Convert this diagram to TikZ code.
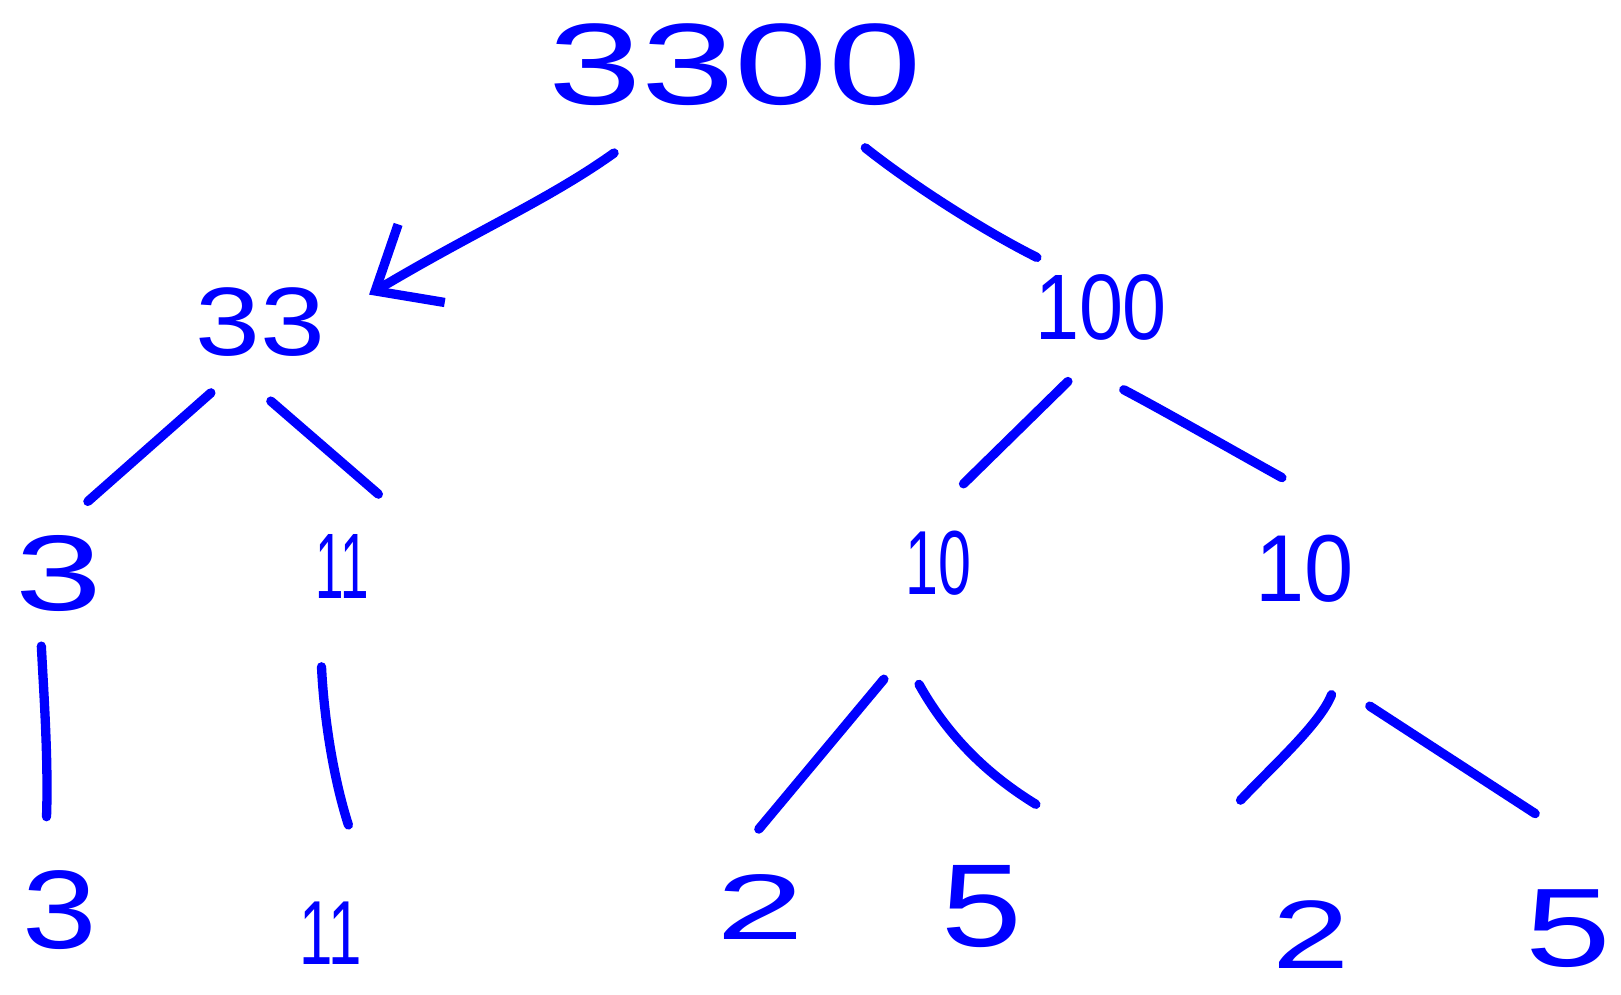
\documentclass[tikz,border=0pt]{standalone}
\usepackage{fontspec}
\setmainfont{Liberation Sans}
\usetikzlibrary{arrows.meta,calc}
\definecolor{ink}{RGB}{0,0,255}
\tikzset{
  num/.style={inner sep=0pt, text=ink},
  edge/.style={draw=ink, line width=4.5pt, line cap=round, line join=round},
  tip/.style={-{Straight Barb[length=26pt,width=44pt,line width=4.5pt]}}
}
\newcommand\fs[1]{\fontsize{#1}{#1}\selectfont}
\newcommand\digits[2]{\scalebox{#1}[1]{#2}}
\begin{document}
\begin{tikzpicture}[x=0.5pt,y=-0.5pt]
\useasboundingbox (0,0) rectangle (1568,962);
% numbers of the factor tree
\node[num,font=\fs{56}] (n3300) at (711,63)  {\digits{1.45}{3300}};
\node[num,font=\fs{47}] (n33)   at (252,312) {\digits{1.2}{33}};
\node[num,font=\fs{45}] (n100)  at (1065,297){\digits{0.85}{100}};
\node[num,font=\fs{52}] (n3a)   at (57,555)  {\digits{1.45}{3}};
\node[num,font=\fs{45}] (n11a)  at (331,548) {\digits{0.55}{11}};
\node[num,font=\fs{44}] (n10a)  at (908,545) {\digits{0.65}{10}};
\node[num,font=\fs{46}] (n10b)  at (1262,550){\digits{0.93}{10}};
\node[num,font=\fs{54}] (n3b)   at (58,880)  {\digits{1.2}{3}};
\node[num,font=\fs{44}] (n11b)  at (320,903) {\digits{0.66}{11}};
\node[num,font=\fs{45}] (n2a)   at (736,877) {\digits{1.7}{2}};
\node[num,font=\fs{57}] (n5a)   at (950,877) {\digits{1.23}{5}};
\node[num,font=\fs{47}] (n2b)   at (1268,904){\digits{1.43}{2}};
\node[num,font=\fs{54}] (n5b)   at (1517,898){\digits{1.38}{5}};
% branches
\draw[edge,tip] ($(n3300)+(-117,85)$) .. controls ($(n3300)+(-180,130)$) and ($(n3300)+(-250,160)$) .. ($(n33)+(105,-27)$);
\draw[edge] ($(n3300)+(126,80)$) .. controls ($(n3300)+(170,115)$) and ($(n3300)+(240,160)$) .. ($(n100)+(-62,-48)$);
\draw[edge] ($(n33)+(-48,68)$) -- ($(n3a)+(28,-70)$);
\draw[edge] ($(n33)+(10,76)$) -- ($(n11a)+(35,-70)$);
\draw[edge] ($(n100)+(-32,72)$) -- ($(n10a)+(24,-77)$);
\draw[edge] ($(n100)+(22,80)$) .. controls ($(n100)+(60,100)$) and ($(n100)+(130,140)$) .. ($(n10b)+(-22,-88)$);
\draw[edge] ($(n3a)+(-17,70)$) .. controls ($(n3a)+(-15,110)$) and ($(n3a)+(-10,180)$) .. ($(n3b)+(-13,-90)$);
\draw[edge] ($(n11a)+(-20,97)$) .. controls ($(n11a)+(-18,140)$) and ($(n11a)+(-10,200)$) .. ($(n11b)+(17,-105)$);
\draw[edge] ($(n10a)+(-53,112)$) -- ($(n2a)+(-2,-75)$);
\draw[edge] ($(n10a)+(-19,117)$) .. controls ($(n10a)+(5,160)$) and ($(n10a)+(40,200)$) .. ($(n5a)+(52,-99)$);
\draw[edge] ($(n10b)+(26,122)$) .. controls ($(n10b)+(15,150)$) and ($(n10b)+(-30,190)$) .. ($(n2b)+(-68,-130)$);
\draw[edge] ($(n10b)+(63,133)$) -- ($(n5b)+(-32,-111)$);
\end{tikzpicture}
\end{document}
